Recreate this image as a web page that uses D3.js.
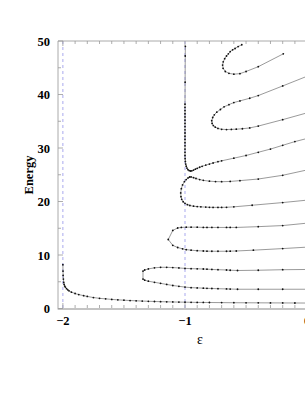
<!DOCTYPE html>
<html><head><meta charset="utf-8">
<script src="https://cdn.jsdelivr.net/npm/d3@7"></script>
<style>body{margin:0;background:#fff}svg{display:block}</style>
</head><body>
<script>
// ---- data ----
const xMajorTicks = [-2, -1, 0];
const yMajorTicks = [0, 10, 20, 30, 40, 50];
const xLabel = "ε";
const yLabel = "Energy";
const dashedLines = [-2, -1];

const level1 = [[-2.0,8.2],[-1.999,7.0],[-1.998,6.2],[-1.996,5.5],[-1.993,4.9],[-1.99,4.5],[-1.985,4.2],[-1.98,4.0],[-1.97,3.7],[-1.96,3.5],[-1.95,3.3],[-1.93,3.05],[-1.9,2.8],[-1.87,2.6],[-1.83,2.4],[-1.8,2.25],[-1.75,2.05],[-1.7,1.9],[-1.65,1.8],[-1.6,1.7],[-1.55,1.62],[-1.5,1.55],[-1.45,1.49],[-1.4,1.44],[-1.35,1.39],[-1.3,1.35],[-1.25,1.31],[-1.2,1.28],[-1.15,1.25],[-1.1,1.22],[-1.05,1.2],[-1.0,1.18],[-0.95,1.16],[-0.9,1.14],[-0.85,1.13],[-0.8,1.12],[-0.7,1.1],[-0.6,1.08],[-0.5,1.07],[-0.4,1.06],[-0.3,1.05],[-0.2,1.04],[-0.1,1.03],[0.0,1.02]];

const level2 = [[0.02,7.3],[-0.2,7.25],[-0.4,7.15],[-0.57,7.1],[-0.63,7.15],[-0.66,7.2],[-0.73,7.25],[-0.78,7.3],[-0.82,7.35],[-0.85,7.38],[-0.9,7.42],[-0.95,7.45],[-1.0,7.5],[-1.05,7.58],[-1.1,7.65],[-1.15,7.7],[-1.2,7.7],[-1.25,7.6],[-1.3,7.4],[-1.33,7.2],[-1.344,7.0],[-1.344,5.5],[-1.33,5.3],[-1.3,5.1],[-1.25,4.9],[-1.2,4.7],[-1.15,4.5],[-1.1,4.3],[-1.05,4.15],[-1.0,4.0],[-0.95,3.9],[-0.9,3.85],[-0.85,3.8],[-0.82,3.77],[-0.78,3.74],[-0.73,3.7],[-0.66,3.66],[-0.63,3.64],[-0.57,3.6],[-0.4,3.6],[-0.2,3.6],[0.02,3.6]];

const level3 = [[0.02,16.0],[-0.2,15.5],[-0.4,15.3],[-0.58,15.15],[-0.63,15.15],[-0.66,15.15],[-0.73,15.15],[-0.78,15.15],[-0.82,15.15],[-0.85,15.15],[-0.9,15.2],[-0.95,15.2],[-0.99,15.2],[-1.03,15.15],[-1.06,15.05],[-1.1,14.6],[-1.137,12.9],[-1.1,11.8],[-1.06,11.4],[-1.02,11.15],[-0.99,11.0],[-0.95,10.9],[-0.9,10.8],[-0.85,10.75],[-0.82,10.72],[-0.78,10.7],[-0.73,10.7],[-0.66,10.7],[-0.63,10.72],[-0.58,10.75],[-0.44,10.9],[-0.2,11.2],[0.02,11.5]];

const level4 = [[-0.997,49.0],[-0.998,47.2],[-0.999,42.3],[-1.0,38.2],[-1.0,37.6],[-1.0,37.0],[-1.0,36.4],[-1.0,35.8],[-1.0,35.2],[-1.0,34.6],[-1.0,34.0],[-1.0,33.4],[-1.0,32.8],[-1.0,32.2],[-1.0,31.6],[-1.0,31.0],[-1.0,30.4],[-1.0,29.8],[-1.0,29.2],[-1.0,28.6],[-0.999,28.0],[-0.997,27.5],[-0.994,27.0],[-0.99,26.6],[-0.984,26.25],[-0.976,25.95],[-0.966,25.78],[-0.955,25.7],[-0.944,25.74],[-0.93,25.88],[-0.915,26.05],[-0.9,26.2],[-0.88,26.4],[-0.86,26.58],[-0.83,26.8],[-0.8,27.0],[-0.77,27.2],[-0.73,27.45],[-0.7,27.6],[-0.6,28.1],[-0.5,28.6],[-0.4,29.2],[-0.3,29.8],[-0.2,30.5],[-0.1,31.2],[0.02,31.9]];

const level5 = [[0.02,26.0],[-0.2,24.9],[-0.4,24.2],[-0.55,23.9],[-0.63,23.75],[-0.7,23.7],[-0.75,23.72],[-0.8,23.8],[-0.85,23.95],[-0.88,24.1],[-0.91,24.3],[-0.93,24.45],[-0.95,24.6],[-0.962,24.58],[-0.975,24.4],[-0.99,24.1],[-1.005,23.7],[-1.02,23.1],[-1.03,22.4],[-1.035,21.6],[-1.033,20.9],[-1.027,20.4],[-1.015,19.95],[-1.0,19.65],[-0.98,19.4],[-0.96,19.25],[-0.93,19.12],[-0.9,19.05],[-0.87,19.0],[-0.83,18.95],[-0.8,18.92],[-0.77,18.9],[-0.73,18.9],[-0.7,18.9],[-0.66,18.92],[-0.6,19.0],[-0.45,19.3],[-0.2,19.8],[0.02,20.3]];

const level6 = [[0.02,43.6],[-0.2,41.6],[-0.4,39.8],[-0.47,39.3],[-0.55,38.8],[-0.6,38.5],[-0.64,38.1],[-0.68,37.7],[-0.71,37.2],[-0.74,36.7],[-0.76,36.2],[-0.773,35.7],[-0.781,35.1],[-0.778,34.6],[-0.768,34.2],[-0.752,33.9],[-0.73,33.65],[-0.7,33.5],[-0.66,33.45],[-0.62,33.48],[-0.58,33.52],[-0.53,33.6],[-0.47,33.75],[-0.4,34.1],[-0.2,35.3],[0.02,36.7]];

const level7 = [[-0.195,47.6],[-0.4,45.2],[-0.5,44.3],[-0.55,43.9],[-0.6,43.8],[-0.64,43.95],[-0.67,44.3],[-0.688,44.9],[-0.692,45.5],[-0.687,46.1],[-0.675,46.7],[-0.66,47.2],[-0.645,47.6],[-0.63,48.0],[-0.61,48.35],[-0.59,48.6],[-0.565,48.95],[-0.535,49.3]];

const levels = [level1, level2, level3, level4, level5, level6, level7];

// ---- drawing ----
(function(){
const W = 305, H = 394;
const mL = 58, mT = 41, mB = 308.5, mR = 312;
const svg = d3.select("body").append("svg").attr("width", W).attr("height", H);

const x = d3.scaleLinear().domain([-2.04, 0.04]).range([mL, mR]);
const y = d3.scaleLinear().domain([0, 50]).range([mB, mT]);

svg.append("defs").append("clipPath").attr("id","clip")
  .append("rect").attr("x", mL).attr("y", mT).attr("width", mR-mL).attr("height", mB-mT);

svg.append("g").selectAll("line").data(dashedLines).join("line")
  .attr("x1", d=>x(d)).attr("x2", d=>x(d)).attr("y1", mT).attr("y2", mB)
  .attr("stroke", "#a9a9ee").attr("stroke-width", 1).attr("stroke-dasharray", "3,3");

const frame = svg.append("g");
const xMinor = d3.range(-20, 1).map(d=>d/10);
const yMinor = d3.range(0, 51, 5);
frame.append("line").attr("x1", mL).attr("x2", W+10).attr("y1", mT).attr("y2", mT).attr("stroke", "#aaa").attr("stroke-width", 1);
frame.append("line").attr("x1", mL).attr("x2", mL).attr("y1", mT).attr("y2", mB+1).attr("stroke", "#aaa").attr("stroke-width", 1);
frame.append("line").attr("x1", mL).attr("x2", W+10).attr("y1", mB+0.5).attr("y2", mB+0.5).attr("stroke", "#c4c4c4").attr("stroke-width", 2);

xMinor.forEach(v=>{
  const major = Math.abs(v - Math.round(v)) < 1e-6;
  const len = major ? 5 : 3;
  frame.append("line").attr("x1", x(v)).attr("x2", x(v)).attr("y1", mB-0.5).attr("y2", mB-0.5-len).attr("stroke", "#999").attr("stroke-width", 0.8);
  frame.append("line").attr("x1", x(v)).attr("x2", x(v)).attr("y1", mT).attr("y2", mT+len).attr("stroke", "#999").attr("stroke-width", 0.8);
});
yMinor.forEach(v=>{
  const major = v % 10 === 0;
  const len = major ? 5 : 3;
  frame.append("line").attr("x1", mL).attr("x2", mL+len).attr("y1", y(v)).attr("y2", y(v)).attr("stroke", "#999").attr("stroke-width", 0.8);
});

const fontFam = "'Liberation Serif','DejaVu Serif',serif";
svg.append("g").selectAll("text").data(xMajorTicks).join("text")
  .attr("x", d=>x(d)).attr("y", 325).attr("text-anchor","middle")
  .attr("font-family", fontFam).attr("font-weight","bold").attr("font-size", 12.5)
  .text(d=> d < 0 ? "\u2212" + Math.abs(d) : d);
svg.append("g").selectAll("text").data(yMajorTicks).join("text")
  .attr("x", 50).attr("y", d=>y(d)+4.5).attr("text-anchor","end")
  .attr("font-family", fontFam).attr("font-weight","bold").attr("font-size", 12.5)
  .text(d=>d);

svg.append("text").attr("x", 200).attr("y", 344).attr("text-anchor","middle")
  .attr("font-family", fontFam).attr("font-size", 14).text(xLabel);
svg.append("text").attr("transform", "translate(33,175) rotate(-90)").attr("text-anchor","middle")
  .attr("font-family", fontFam).attr("font-weight","bold").attr("font-size", 12.5).text(yLabel);

const plot = svg.append("g").attr("clip-path", "url(#clip)");
const line = d3.line().x(d=>x(d[0])).y(d=>y(d[1]));
levels.forEach(lv=>{
  plot.append("path").attr("d", line(lv)).attr("fill","none").attr("stroke","#808080").attr("stroke-width", 0.8);
  plot.append("g").selectAll("circle").data(lv).join("circle")
    .attr("cx", d=>x(d[0])).attr("cy", d=>y(d[1])).attr("r", 0.9).attr("fill","#111");
});
})();
</script>
</body></html>
